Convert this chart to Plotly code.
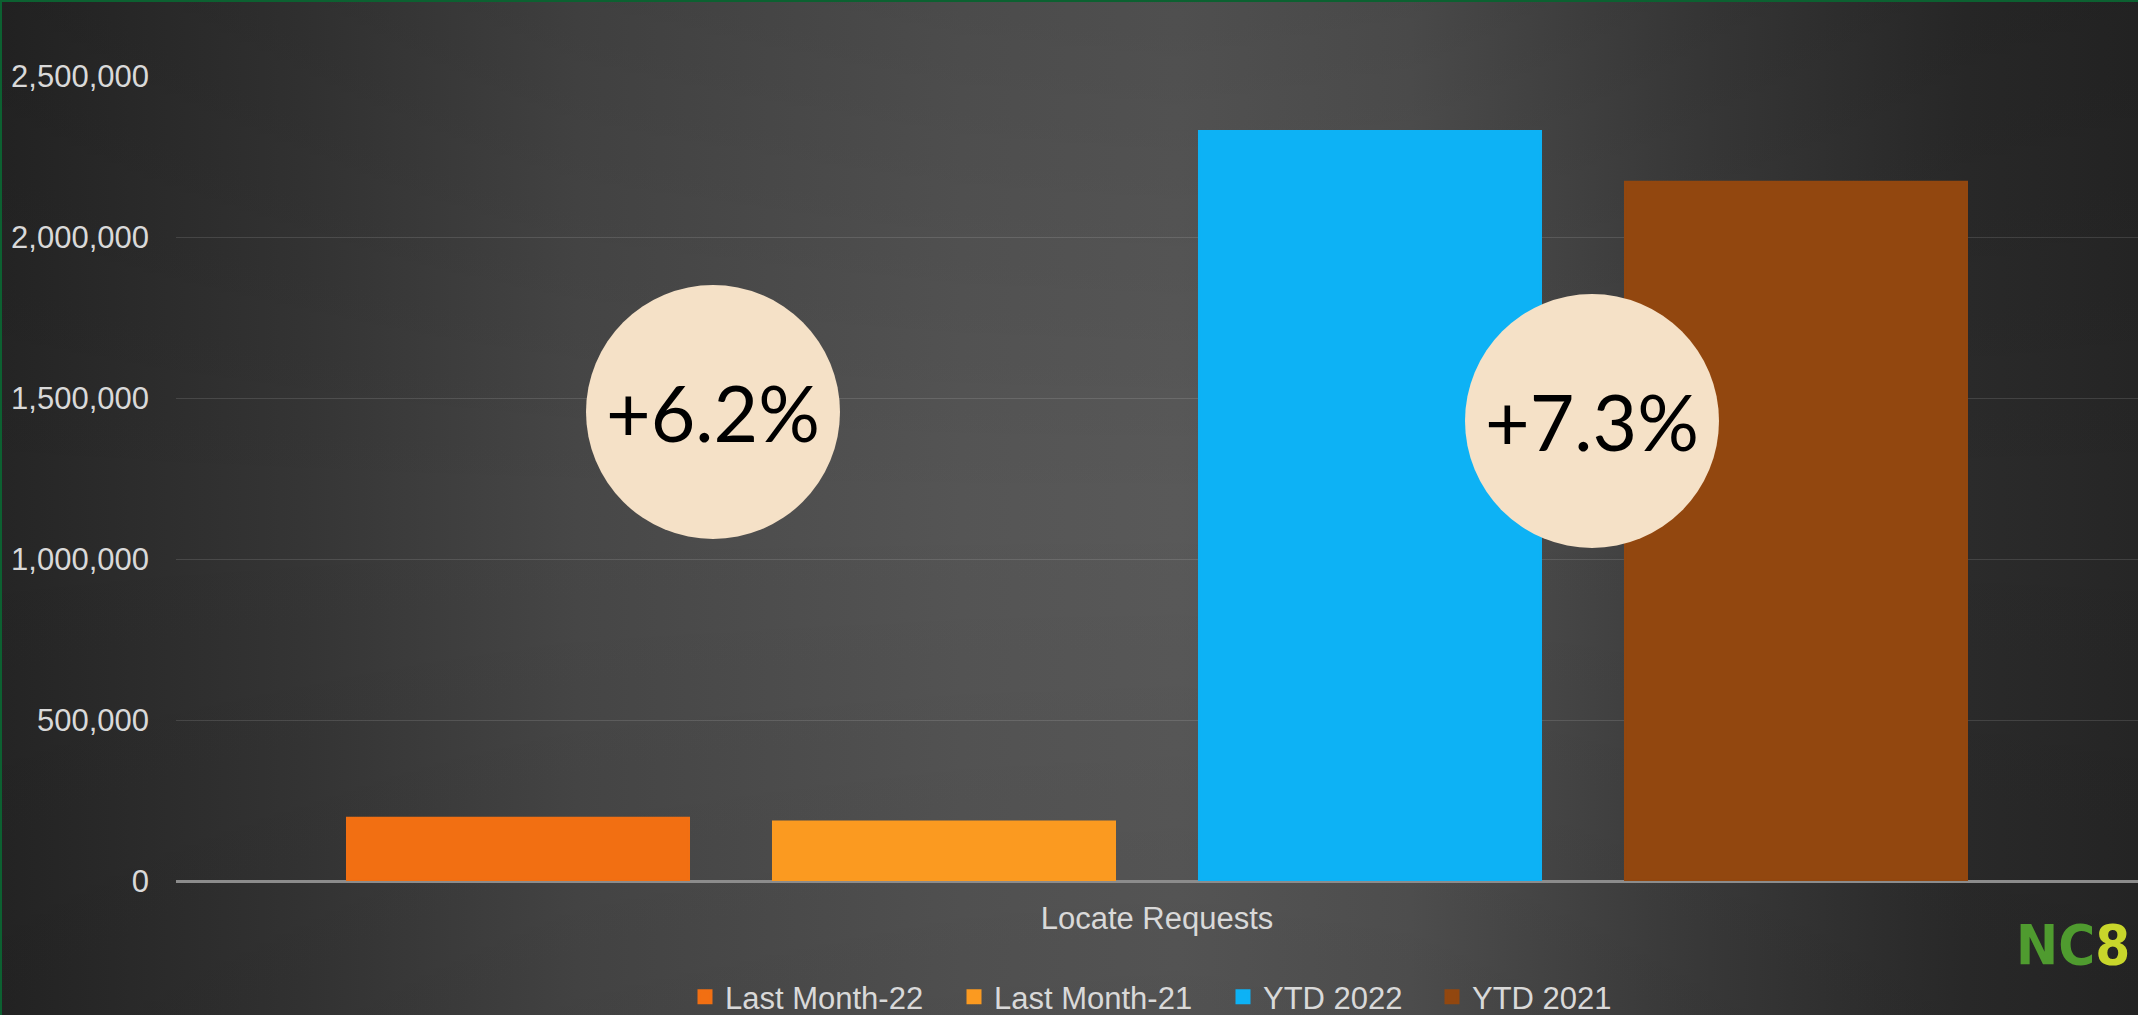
import base64
import plotly.graph_objects as go

# ---------------- data ----------------
categories = ["Locate Requests"]
series_names = ["Last Month-22", "Last Month-21", "YTD 2022", "YTD 2021"]
series_values = [195000, 183600, 2328000, 2170000]
series_colors = ["#f26f12", "#fb9a20", "#0db2f5", "#92470f"]
y_tick_values = [0, 500000, 1000000, 1500000, 2000000, 2500000]
change_labels = ["+6.2%", "+7.3%"]

W, H = 2138, 1015
PL, PR, PT, PB = 176, 2138, 76, 881  # plot area in pixels

# ---------------- background gradient (SVG) ----------------
svg = f'''<svg xmlns="http://www.w3.org/2000/svg" width="{W}" height="{H}" viewBox="0 0 {W} {H}" preserveAspectRatio="none">
<defs>
<linearGradient id="h" x1="0" y1="0" x2="1" y2="0">
<stop offset="0" stop-color="#252525"/>
<stop offset="0.14" stop-color="#353535"/>
<stop offset="0.27" stop-color="#474747"/>
<stop offset="0.45" stop-color="#555555"/>
<stop offset="0.55" stop-color="#595959"/>
<stop offset="0.66" stop-color="#525252"/>
<stop offset="0.80" stop-color="#3b3b3b"/>
<stop offset="0.92" stop-color="#2b2b2b"/>
<stop offset="1" stop-color="#262626"/>
</linearGradient>
<linearGradient id="v" x1="0" y1="0" x2="0" y2="1">
<stop offset="0" stop-color="#000" stop-opacity="0.12"/>
<stop offset="0.5" stop-color="#000" stop-opacity="0"/>
<stop offset="1" stop-color="#000" stop-opacity="0.08"/>
</linearGradient>
</defs>
<rect width="{W}" height="{H}" fill="url(#h)"/>
<rect width="{W}" height="{H}" fill="url(#v)"/>
</svg>'''
bg_src = "data:image/svg+xml;base64," + base64.b64encode(svg.encode()).decode()

# legend text starts (px) for each series entry, one legend box per series
legend_text_x = [725, 994, 1263, 1472]
legend_ids = ["legend", "legend2", "legend3", "legend4"]

fig = go.Figure()
for name, val, col, lid in zip(series_names, series_values, series_colors, legend_ids):
    fig.add_trace(go.Bar(
        x=categories, y=[val], name=name, legend=lid,
        marker=dict(color=col, line=dict(width=3, color=col)),
    ))

legend_common = dict(
    orientation="h", xanchor="left", y=(H - 997) / H, yanchor="middle",
    font=dict(size=31, color="#d9d9d9"), bgcolor="rgba(0,0,0,0)",
    borderwidth=0,
)
legends = {}
for lid, tx in zip(legend_ids, legend_text_x):
    d = dict(legend_common)
    d["x"] = (tx - 40) / W
    legends[lid] = d

fig.update_layout(
    width=W, height=H,
    margin=dict(l=0, r=0, t=0, b=0, autoexpand=False),
    paper_bgcolor="#2e2e2e",
    plot_bgcolor="rgba(0,0,0,0)",
    barmode="group",
    bargap=0.1315,
    bargroupgap=0.1995,
    font=dict(family="Liberation Sans, Arial, sans-serif", size=31, color="#d9d9d9"),
    showlegend=True,
    xaxis=dict(
        domain=[PL / W, 1], type="category", showgrid=False, ticks="",
        showline=False, zeroline=False, ticklabelstandoff=16,
        tickfont=dict(size=31, color="#d9d9d9"), automargin=False,
    ),
    yaxis=dict(
        domain=[1 - PB / H, 1 - PT / H], range=[0, 2500000],
        tickvals=y_tick_values, tickformat=",", showgrid=True,
        gridcolor="rgba(255,255,255,0.12)", gridwidth=1.3,
        zeroline=True, zerolinecolor="#8c8c8c", zerolinewidth=2.5,
        ticks="", ticklabelstandoff=26, showline=False,
        tickfont=dict(size=31, color="#d9d9d9"), automargin=False,
    ),
    images=[dict(
        source=bg_src, xref="paper", yref="paper", x=0, y=1, sizex=1, sizey=1,
        xanchor="left", yanchor="top", sizing="stretch", layer="below",
    )],
    **legends,
)

# change-percentage bubbles
bubble_pos = [(713, 412), (1592, 421)]
R = 127
for (cx, cy), label in zip(bubble_pos, change_labels):
    fig.add_shape(
        type="circle", xref="paper", yref="paper",
        xsizemode="pixel", ysizemode="pixel",
        xanchor=cx / W, yanchor=1 - cy / H,
        x0=-R, x1=R, y0=-R, y1=R,
        fillcolor="#f5e1c7", line=dict(width=0), layer="above",
    )
    fig.add_annotation(
        x=cx / W, y=1 - cy / H, xref="paper", yref="paper",
        text=label, showarrow=False, xanchor="center", yanchor="middle",
        font=dict(family="Lato, Carlito, Calibri, sans-serif", size=77, color="#000000"),
    )

# logo text in bottom-right corner
fig.add_annotation(
    x=2132 / W, y=1 - 944 / H, xref="paper", yref="paper",
    text="<b><span style='color:#4f9b2f'>NC</span><span style='color:#c8d62b'>8</span></b>",
    showarrow=False, xanchor="right", yanchor="middle",
    font=dict(family="Liberation Sans Narrow, DejaVu Sans Condensed, sans-serif", size=56),
)

# thin green frame on top and left edges
fig.add_shape(type="line", xref="paper", yref="paper", x0=0, x1=1, y0=1, y1=1,
              line=dict(color="#0c6131", width=4), layer="above")
fig.add_shape(type="line", xref="paper", yref="paper", x0=0, x1=0, y0=0, y1=1,
              line=dict(color="#0c6131", width=4), layer="above")

fig.write_html(
    "out.html",
    config={"displayModeBar": False},
    post_script="document.body.style.margin='0';document.body.style.overflow='hidden';",
)
